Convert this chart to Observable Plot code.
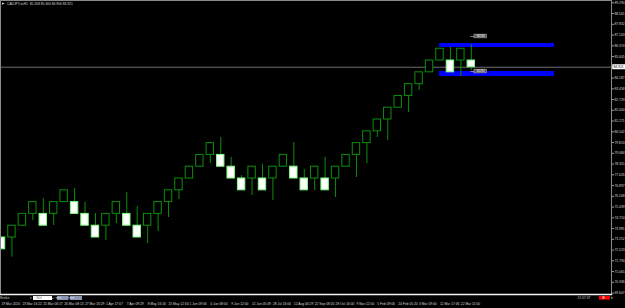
<!DOCTYPE html>
<html>
<head>
<meta charset="utf-8">
<script src="https://cdn.jsdelivr.net/npm/d3@7"></script>
<script src="https://cdn.jsdelivr.net/npm/@observablehq/plot@0.6"></script>
<style>
  html, body { margin: 0; padding: 0; background: #000; }
  #chart { width: 625px; height: 308px; overflow: hidden; background: #000; }
  svg text { font-family: "Liberation Sans", Arial, sans-serif; }
</style>
</head>
<body>
<div id="chart"></div>
<script>
// ---- data ----
const symbolTitle = "CADJPY,w,H1  85.208 85.306 84.906 84.921";
const candleIndex = [0,1,2,3,4,5,6,7,8,9,10,11,12,13,14,15,16,17,18,19,20,21,22,23,24,25,26,27,28,29,30,31,32,33,34,35,36,37,38,39,40,41,42,43,44,45];
const opens  = [73.375,73.375,74.175,74.975,74.975,74.975,75.775,75.775,74.975,74.175,74.175,74.975,74.975,74.175,74.175,74.975,75.775,76.575,77.375,78.175,78.975,78.975,78.175,77.375,77.375,77.375,77.375,78.175,78.175,77.375,77.375,77.375,77.375,78.175,78.975,79.775,80.575,81.375,82.175,82.975,83.775,84.575,85.375,85.375,85.375,85.375];
const closes = [72.575,74.175,74.975,75.775,74.175,75.775,76.575,74.975,74.175,73.375,74.975,75.775,74.175,73.375,74.975,75.775,76.575,77.375,78.175,78.975,79.775,78.175,77.375,76.575,78.175,76.575,78.175,78.975,77.375,76.575,78.175,76.575,78.175,78.975,79.775,80.575,81.375,82.175,82.975,83.775,84.575,85.375,86.175,84.575,86.175,84.921];
const highs  = [73.375,74.175,74.975,75.775,76.019,75.775,76.575,76.698,75.748,75.002,74.975,75.775,76.426,75.477,74.975,75.775,76.575,77.375,78.175,78.975,79.775,80.156,78.800,77.579,78.175,78.325,78.175,78.975,79.817,77.986,78.175,78.800,78.175,78.975,79.775,80.575,81.375,82.175,82.975,83.775,84.575,85.375,86.175,86.259,86.175,86.462];
const lows   = [72.575,72.039,74.175,74.528,74.175,74.189,75.775,74.975,74.175,73.375,73.172,74.324,74.175,73.375,72.968,73.782,74.731,75.952,77.375,78.122,78.393,78.175,77.375,76.575,76.223,76.575,75.884,78.122,77.375,76.575,76.562,76.575,76.087,78.175,77.444,78.393,80.156,79.953,82.175,81.851,83.343,84.575,85.375,84.575,84.292,84.699];

const dateIndex  = [0,2,4,6,8,10,12,14,16,18,20,22,24,26,28,30,32,34,36,38,40,42,44];
const dateLabels = ["19 Mar 2020","23 Mar 16:22","25 Mar 06:17","26 Mar 08:13","27 Mar 16:29","1 Apr 17:07","7 Apr 09:29","8 May 16:16","25 May 12:34","1 Jun 09:06","4 Jun 08:00","9 Jun 12:00","11 Jun 05:49","28 Jul 16:00","12 Aug 06:29","22 Sep 08:20","28 Oct 16:00","9 Nov 12:00","5 Feb 09:06","24 Feb 05:20","3 Mar 09:00","12 Mar 17:46","22 Mar 11:00"];

const priceTicks = [89.290,88.561,87.832,87.103,86.374,85.645,84.916,84.187,83.458,82.729,82.000,81.271,80.542,79.813,79.084,78.355,77.626,76.897,76.168,75.439,74.710,73.981,73.252,72.523,71.794,71.065,70.336,69.607];

// zones (blue rectangles)
const zoneStart = [41.95, 41.95];
const zoneEnd   = [52.97, 52.97];
const zoneTop   = [86.530, 84.631];
const zoneBot   = [86.259, 84.292];
// zone price labels
const zoneLabelPrice = [87.005, 84.631];
const zoneLabelText  = ["86.530", "84.292"];

const lastPrice = closes[closes.length - 1];
const serverTime = "15:57:37";

// ---- build tables ----
const candles = candleIndex.map((i, k) => ({i, open: opens[k], close: closes[k], high: highs[k], low: lows[k]}));
const dates = dateIndex.map((i, k) => ({i, label: dateLabels[k]}));
const zones = zoneStart.map((s, k) => ({x1: s, x2: zoneEnd[k], y1: zoneBot[k], y2: zoneTop[k]}));
const zoneLabels = zoneLabelPrice.map((p, k) => ({p, t: zoneLabelText[k]}));

const GREEN = "#0b8f0b";
const FS = 3.3;

const plot = Plot.plot({
  width: 625, height: 308,
  marginTop: 0, marginLeft: 0, marginRight: 14, marginBottom: 14,
  x: {type: "linear", domain: [-0.0958, 58.43], axis: null},
  y: {type: "linear", domain: [69.51, 89.446], axis: null},
  style: {background: "black", color: "#ddd", fontSize: FS + "px", overflow: "visible"},
  marks: [
    // current price line
    Plot.ruleY([lastPrice], {stroke: "#6e6e6e", strokeWidth: 1}),
    // zones
    Plot.rect(zones, {x1: "x1", x2: "x2", y1: "y1", y2: "y2", fill: "#0000ff", clip: "frame"}),
    // wicks
    Plot.ruleX(candles, {x: "i", y1: "low", y2: "high", stroke: GREEN, strokeWidth: 1, clip: "frame"}),
    // bodies
    Plot.rect(candles, {
      x1: d => d.i - 0.355, x2: d => d.i + 0.355, y1: "open", y2: "close",
      fill: d => d.close >= d.open ? "black" : "white",
      stroke: d => d.close >= d.open ? GREEN : "#7dff7d",
      strokeWidth: 1, clip: "frame"
    }),
    // zone labels (small gray price boxes)
    Plot.ruleY(zoneLabels, {y: "p", x1: 44.95, x2: 45.3, stroke: "#cccccc", strokeWidth: 0.6}),
    Plot.rect(zoneLabels, {x1: 45.3, x2: 46.5, y1: d => d.p - 0.13, y2: d => d.p + 0.13, fill: "#5a5a5a", stroke: "#d0d0d0", strokeWidth: 0.4}),
    Plot.text(zoneLabels, {x: 45.9, y: "p", text: "t", fill: "white", fontSize: 2.6}),
    // frame
    Plot.frame({stroke: "#8a8a8a", strokeWidth: 1}),
    Plot.frame({anchor: "bottom", stroke: "#f2f2f2", strokeWidth: 1.4}),
    // price axis
    Plot.axisY(priceTicks, {anchor: "right", tickSize: 2, tickPadding: 1, tickFormat: d => d.toFixed(3), fill: "#d8d8d8", stroke: "#9a9a9a", fontSize: FS}),
    // current price label
    Plot.rect([lastPrice], {x1: 58.55, x2: 59.9, y1: d => d - 0.17, y2: d => d + 0.17, fill: "white"}),
    Plot.text([lastPrice], {x: 58.62, y: d => d, text: d => d.toFixed(3), textAnchor: "start", fill: "black", fontSize: FS}),
    // date axis
    Plot.text(dates, {x: "i", text: "label", frameAnchor: "bottom", dy: 10.5, textAnchor: "start", fill: "#d8d8d8", fontSize: FS}),
    // title
    Plot.text([symbolTitle], {frameAnchor: "top-left", dx: 6.5, dy: 2, textAnchor: "start", lineAnchor: "top", fill: "#d8d8d8", fontSize: FS})
  ]
});

document.getElementById("chart").appendChild(plot);

// UI chrome (window widgets)
const svg = d3.select(plot);
svg.append("path").attr("d", "M2,2.4 L4.6,3.6 L2,4.8 Z").attr("fill", "#d8d8d8");
// bottom tab / panel row
const g = svg.append("g").attr("font-size", FS + "px");
g.append("text").attr("x", 4.5).attr("y", 299.4).attr("fill", "#cfcfcf").text("Renko");
g.append("text").attr("x", 30.5).attr("y", 299.2).attr("fill", "#cfcfcf").text("\u25be");
g.append("rect").attr("x", 33).attr("y", 296).attr("width", 19).attr("height", 4).attr("fill", "white");
g.append("text").attr("x", 39).attr("y", 299.2).attr("fill", "#777").text("800");
g.append("text").attr("x", 52.6).attr("y", 299.2).attr("fill", "#cfcfcf").text("\u25b4");
g.append("rect").attr("x", 57).attr("y", 296).attr("width", 11.5).attr("height", 4).attr("fill", "#8c96b4");
g.append("rect").attr("x", 70).attr("y", 296).attr("width", 12).attr("height", 4).attr("fill", "#8c96b4");
g.append("text").attr("x", 58.5).attr("y", 299.2).attr("fill", "#e8e8ff").text("<<<");
g.append("text").attr("x", 71.5).attr("y", 299.2).attr("fill", "#e8e8ff").text(">>>");
g.append("text").attr("x", 584).attr("y", 299.2).attr("fill", "#cfcfcf").text(serverTime);
g.append("rect").attr("x", 599).attr("y", 296).attr("width", 11).attr("height", 3.6).attr("fill", "#ff0000");
g.append("text").attr("x", 603.5).attr("y", 299).attr("fill", "white").text("B");
g.append("text").attr("x", 612).attr("y", 299.2).attr("fill", "#cfcfcf").text("b");
</script>
</body>
</html>
